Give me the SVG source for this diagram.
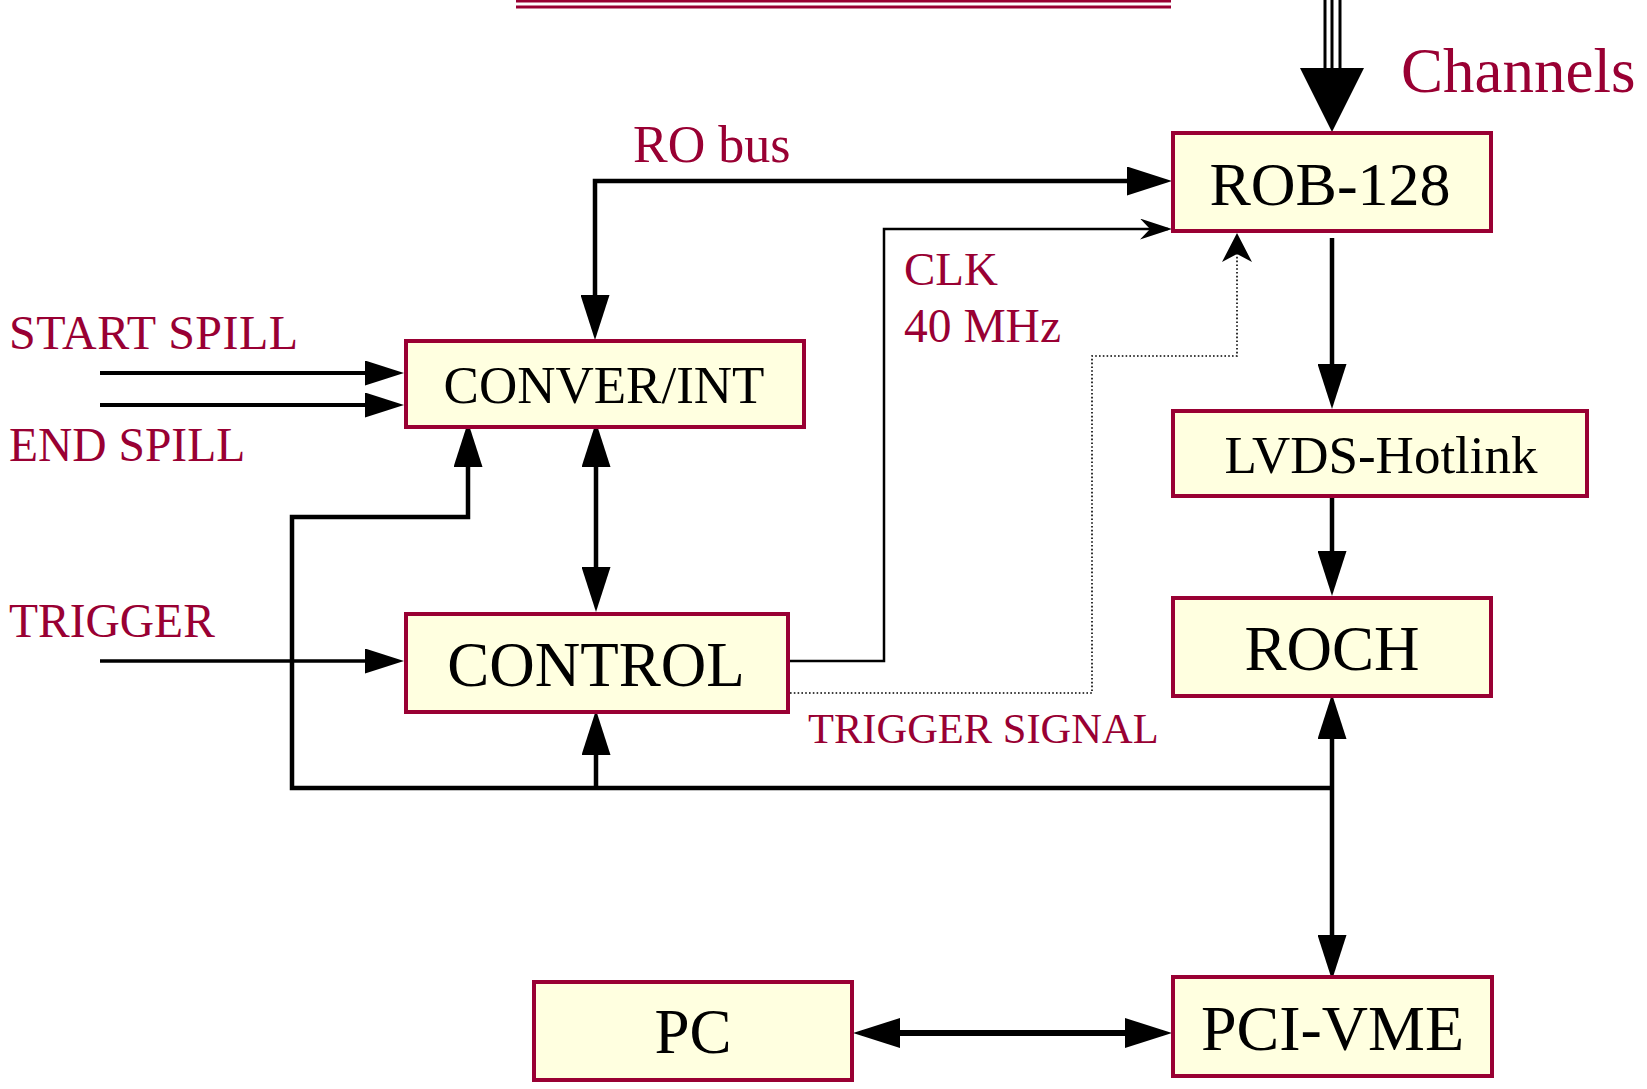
<svg xmlns="http://www.w3.org/2000/svg" width="1647" height="1089" viewBox="0 0 1647 1089">
<style>
.box{fill:#FFFFE0;stroke:#990033;stroke-width:4}
.bt{font-family:"Liberation Serif","Times New Roman",serif;fill:#000;text-anchor:middle}
.lb{font-family:"Liberation Serif","Times New Roman",serif;fill:#990033}
.thick{fill:none;stroke:#000;stroke-width:4.5;stroke-linejoin:miter}
.thin{fill:none;stroke:#000;stroke-width:2.5}
.dot{fill:none;stroke:#000;stroke-width:1.6;stroke-dasharray:1.6 2.2}
</style>
<defs>
<marker id="ah" markerUnits="userSpaceOnUse" viewBox="0 0 45 29" refX="36" refY="14.5" markerWidth="45" markerHeight="29" orient="auto-start-reverse">
<path d="M0,0 L45,14.5 L0,29 Z" fill="#000"/>
</marker>
<marker id="ahs" markerUnits="userSpaceOnUse" viewBox="0 0 39 25" refX="32" refY="12.5" markerWidth="39" markerHeight="25" orient="auto-start-reverse">
<path d="M0,0 L39,12.5 L0,25 Z" fill="#000"/>
</marker>
<marker id="ahb" markerUnits="userSpaceOnUse" viewBox="0 0 47 30" refX="38" refY="15" markerWidth="47" markerHeight="30" orient="auto-start-reverse">
<path d="M0,0 L47,15 L0,30 Z" fill="#000"/>
</marker>
<marker id="ab" markerUnits="userSpaceOnUse" viewBox="0 0 32 21" refX="28" refY="10.5" markerWidth="32" markerHeight="21" orient="auto">
<path d="M0,0 L32,10.5 L0,21 L10,10.5 Z" fill="#000"/>
</marker>
<marker id="ab2" markerUnits="userSpaceOnUse" viewBox="0 0 29 30" refX="26" refY="15" markerWidth="29" markerHeight="30" orient="auto">
<path d="M0,0 L29,15 L0,30 L8,15 Z" fill="#000"/>
</marker>
</defs>

<g id="connectors">
<line x1="516" y1="1.2" x2="1171" y2="1.2" stroke="#990033" stroke-width="2.5"/>
<line x1="516" y1="7" x2="1171" y2="7" stroke="#990033" stroke-width="3"/>
<line x1="1325" y1="0" x2="1325" y2="70" stroke="#000" stroke-width="3"/>
<line x1="1332" y1="0" x2="1332" y2="70" stroke="#000" stroke-width="3"/>
<line x1="1340" y1="0" x2="1340" y2="70" stroke="#000" stroke-width="3"/>
<polygon points="1300,68 1364,68 1332,132" fill="#000"/>
<path class="thick" d="M595,331 V181 H1163" marker-start="url(#ah)" marker-end="url(#ah)"/>
<path class="thin" d="M790,661 H884 V229 H1168" marker-end="url(#ab)"/>
<path class="dot" d="M790,693 H1092 V356 H1237 V236" marker-end="url(#ab2)"/>
<path class="thick" style="stroke-width:4" d="M100,373 H397" marker-end="url(#ahs)"/>
<path class="thick" style="stroke-width:4" d="M100,405 H397" marker-end="url(#ahs)"/>
<path class="thick" style="stroke-width:3.5" d="M100,661 H397" marker-end="url(#ahs)"/>
<path class="thick" d="M468,431 V517 H292 V788 H1332" marker-start="url(#ah)"/>
<path class="thick" d="M596,788 V719" marker-end="url(#ah)"/>
<path class="thick" d="M596,431 V603" marker-start="url(#ah)" marker-end="url(#ah)"/>
<path class="thick" d="M1332,703 V971" marker-start="url(#ah)" marker-end="url(#ah)"/>
<path class="thick" d="M1332,238 V400" marker-end="url(#ah)"/>
<path class="thick" d="M1332,498 V587" marker-end="url(#ah)"/>
<path class="thick" style="stroke-width:6" d="M862,1033 H1163" marker-start="url(#ahb)" marker-end="url(#ahb)"/>
</g>

<g id="rob128"><rect class="box" x="1173" y="133" width="318" height="98"/><text class="bt" x="1330" y="205" font-size="62">ROB-128</text></g>
<g id="converint"><rect class="box" x="406" y="341" width="398" height="86"/><text class="bt" x="604" y="403" font-size="53">CONVER/INT</text></g>
<g id="control"><rect class="box" x="406" y="614" width="382" height="98"/><text class="bt" x="596" y="686" font-size="63">CONTROL</text></g>
<g id="lvds"><rect class="box" x="1173" y="411" width="414" height="85"/><text class="bt" x="1381" y="473" font-size="53">LVDS-Hotlink</text></g>
<g id="roch"><rect class="box" x="1173" y="598" width="318" height="98"/><text class="bt" x="1332" y="670" font-size="63">ROCH</text></g>
<g id="pcivme"><rect class="box" x="1173" y="977" width="319" height="99"/><text class="bt" x="1332.5" y="1050" font-size="64">PCI-VME</text></g>
<g id="pc"><rect class="box" x="534" y="982" width="318" height="98"/><text class="bt" x="693" y="1053" font-size="63">PC</text></g>

<g id="labels">
<text class="lb" x="1401" y="92" font-size="63">Channels</text>
<text class="lb" x="633" y="162" font-size="52">RO bus</text>
<text class="lb" x="904" y="285" font-size="47">CLK</text>
<text class="lb" x="904" y="342" font-size="47.5">40 MHz</text>
<text class="lb" x="9" y="349" font-size="48" textLength="289" lengthAdjust="spacing">START SPILL</text>
<text class="lb" x="9" y="461" font-size="47.5">END SPILL</text>
<text class="lb" x="9" y="637" font-size="47.5">TRIGGER</text>
<text class="lb" x="808" y="743" font-size="42.5">TRIGGER SIGNAL</text>
</g>
</svg>
